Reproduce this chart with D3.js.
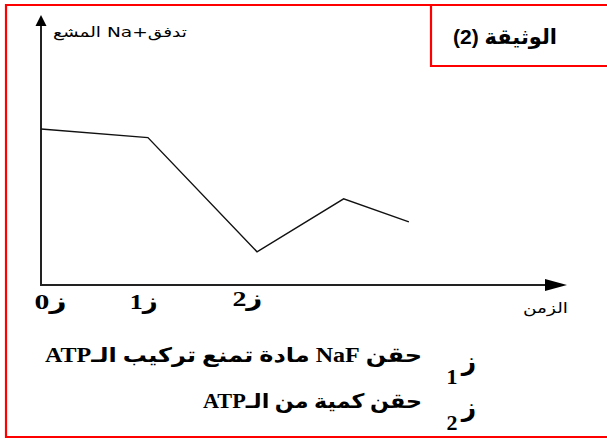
<!DOCTYPE html>
<html><head><meta charset="utf-8">
<script src="https://cdn.jsdelivr.net/npm/d3@7"></script>
<style>
html,body{margin:0;padding:0;background:#fff;}
svg{display:block;}
</style></head>
<body>
<script>
// ---- data ----
const times = [0, 1, 2.02, 2.83, 3.44];
const flux = [57.8, 54.6, 12.3, 31.9, 23.4];
const tickTimes = [0.09, 0.96, 1.93];
const tickLabels = ["ز0", "ز1", "ز2"];
const yTitle = "تدفق+Na المشع";
const xTitle = "الزمن";
const docTitle = "الوثيقة (2)";
const legendKeys = ["1", "2"];
const legendTexts = ["حقن NaF مادة تمنع تركيب الـATP", "حقن كمية من الـATP"];

const W = 607, H = 439;
const svg = d3.select("body").append("svg").attr("width", W).attr("height", H);

// frame
const red = "#ff0000";
svg.append("path").attr("d", `M6,438 V5 H607`).attr("fill", "none").attr("stroke", red).attr("stroke-width", 2.2);
svg.append("path").attr("d", `M6,437 H607`).attr("stroke", red).attr("stroke-width", 2.2);
svg.append("path").attr("d", `M431,5 V66 H607`).attr("fill", "none").attr("stroke", red).attr("stroke-width", 2.2);
svg.append("text").attr("x", 505).attr("y", 44).attr("text-anchor", "middle")
  .attr("font-family", "'Liberation Sans','DejaVu Sans',sans-serif").attr("font-weight", "bold")
  .attr("font-size", 21).attr("textLength", 104).attr("lengthAdjust", "spacingAndGlyphs")
  .attr("fill", "#000").text(docTitle);

// scales
const x = d3.scaleLinear().domain([0, 4.9]).range([41, 565]);
const y = d3.scaleLinear().domain([0, 100]).range([285, 15]);

// axes
const axisColor = "#222";
svg.append("line").attr("x1", x(0)).attr("x2", x(0)).attr("y1", y(0) + 1).attr("y2", 22)
  .attr("stroke", axisColor).attr("stroke-width", 2);
svg.append("path").attr("d", `M${x(0)},15 L${x(0) + 5.5},26 L${x(0) - 5.5},26 Z`).attr("fill", "#000");
svg.append("line").attr("x1", x(0)).attr("x2", 550).attr("y1", y(0)).attr("y2", y(0))
  .attr("stroke", axisColor).attr("stroke-width", 2);
svg.append("path").attr("d", `M567,${y(0)} L545,${y(0) - 6} L545,${y(0) + 6} Z`).attr("fill", "#000");

// tick labels
const tickW = [32, 28, 30];
svg.selectAll("text.tick").data(tickLabels).enter().append("text").attr("class", "tick")
  .attr("x", (d, i) => x(tickTimes[i])).attr("y", (d, i) => i === 2 ? 306 : 309)
  .attr("text-anchor", "middle")
  .attr("font-family", "'Liberation Serif','DejaVu Sans',serif").attr("font-weight", "bold")
  .attr("font-size", 22).attr("textLength", (d, i) => tickW[i]).attr("lengthAdjust", "spacingAndGlyphs")
  .attr("fill", "#000").text(d => d);

// axis titles
svg.append("text").attr("x", 187).attr("y", 37).attr("direction", "rtl").style("direction", "rtl")
  .attr("text-anchor", "start").attr("font-family", "'DejaVu Sans',sans-serif")
  .attr("font-size", 14).attr("textLength", 134).attr("lengthAdjust", "spacingAndGlyphs")
  .attr("fill", "#000").text(yTitle);
svg.append("text").attr("x", 568).attr("y", 313).attr("direction", "rtl").style("direction", "rtl")
  .attr("text-anchor", "start").attr("font-family", "'DejaVu Sans',sans-serif")
  .attr("font-size", 15).attr("textLength", 45).attr("lengthAdjust", "spacingAndGlyphs")
  .attr("fill", "#000").text(xTitle);

// line
const pts = times.map((t, i) => [t, flux[i]]);
svg.append("path").datum(pts)
  .attr("d", d3.line().x(d => x(d[0])).y(d => y(d[1])))
  .attr("fill", "none").attr("stroke", "#111").attr("stroke-width", 1.4);

// legend
const legY = [362, 408];
const legW = [377, 219];
legendKeys.forEach((k, i) => {
  const g = svg.append("g");
  g.append("text").attr("x", 469).attr("y", legY[i] + 8).attr("text-anchor", "middle")
    .attr("font-family", "'DejaVu Sans',serif").attr("font-weight", "bold")
    .attr("font-size", 25).attr("fill", "#000").text("ز");
  g.append("text").attr("x", 452).attr("y", legY[i] + 22).attr("text-anchor", "middle")
    .attr("font-family", "'Liberation Serif',serif").attr("font-weight", "bold")
    .attr("font-size", 22).attr("fill", "#000").text(k);
  g.append("text").attr("x", 422).attr("y", legY[i]).attr("direction", "rtl").style("direction", "rtl")
    .attr("text-anchor", "start")
    .attr("font-family", "'Liberation Serif','DejaVu Sans',serif").attr("font-weight", "bold")
    .attr("font-size", 20).attr("textLength", legW[i]).attr("lengthAdjust", "spacingAndGlyphs")
    .attr("fill", "#000").text(legendTexts[i]);
});
</script>
</body></html>
